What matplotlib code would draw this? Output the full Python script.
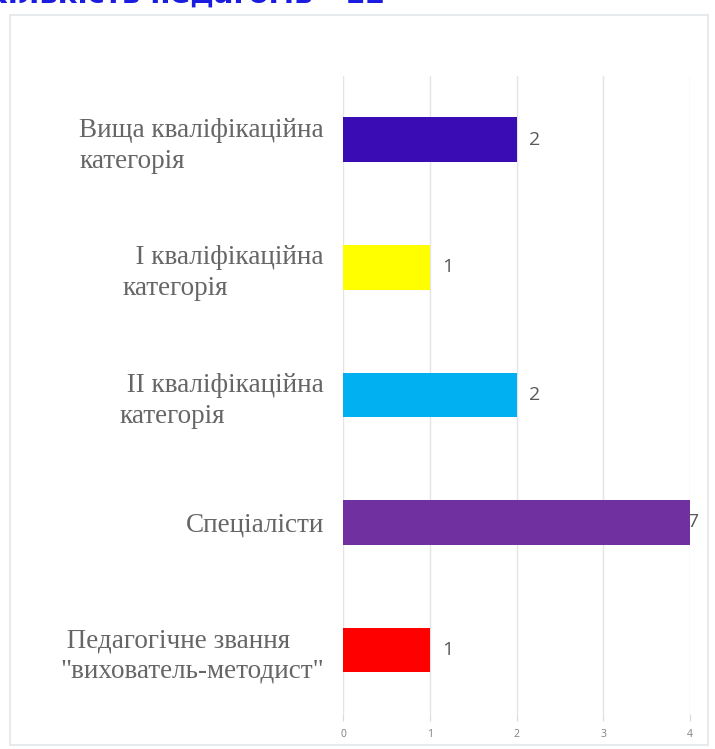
import matplotlib
matplotlib.use('Agg')
import matplotlib.pyplot as plt
from matplotlib.patches import Rectangle

# categories top -> bottom, as in the chart
categories = [
    'Вища кваліфікаційна\nкатегорія',
    '  І кваліфікаційна\nкатегорія',
    ' ІІ кваліфікаційна\nкатегорія',
    'Спеціалісти',
    ' Педагогічне звання\n"вихователь-методист"',
]
values = [2, 1, 2, 7, 1]
colors = ['#3a0cb4', '#ffff00', '#00b0f0', '#7030a0', '#ff0000']
x_ticks = [0, 1, 2, 3, 4]
title = 'Кількість педагогів - 12'

fig = plt.figure(figsize=(7.15, 7.49), dpi=100)
fig.patch.set_facecolor('white')

# light frame around the chart area
fig.patches.append(Rectangle((0.014, 0.005), 0.976, 0.975, transform=fig.transFigure,
                             fill=False, edgecolor='#e3e6ea', linewidth=1.2))

# title, cut off by the top edge in the reference
fig.text(385 / 715, 1 - 4 / 749, title, ha='right', va='baseline',
         fontsize=21, fontweight='bold', color='#1c1ce0')

ax = fig.add_axes([0.48, 0.047, 0.485, 0.8515])
y = list(range(len(categories)))
xmax = x_ticks[-1]
shown = [min(v, xmax) for v in values]
ax.barh(y, shown, height=0.35, color=colors, zorder=3)

for yi, v, s in zip(y, values, shown):
    off = -3 if v > xmax else 12
    ax.annotate(str(v), (s, yi), xytext=(off, 0), textcoords='offset pixels',
                va='center', ha='left', fontsize=14, color='#595959',
                fontfamily='Open Sans', zorder=4)

ax.set_xlim(0, xmax)
ax.set_ylim(len(categories) - 0.5, -0.5)
ax.set_xticks(x_ticks)
ax.set_xticklabels([str(t) for t in x_ticks], fontsize=7.5, color='#808080',
                   fontfamily='Open Sans')
ax.set_yticks(y)
ax.set_yticklabels(categories, fontsize=19.5, color='#666666',
                   fontfamily='Liberation Serif', multialignment='left',
                   linespacing=1.3)
ax.tick_params(axis='y', length=0, pad=14)
ax.tick_params(axis='x', length=5, color='#d9d9d9', pad=6)
ax.grid(axis='x', color='#e4e4e4', linewidth=1, zorder=0)
for sp in ax.spines.values():
    sp.set_visible(False)

fig.savefig('out.png', dpi=100)
